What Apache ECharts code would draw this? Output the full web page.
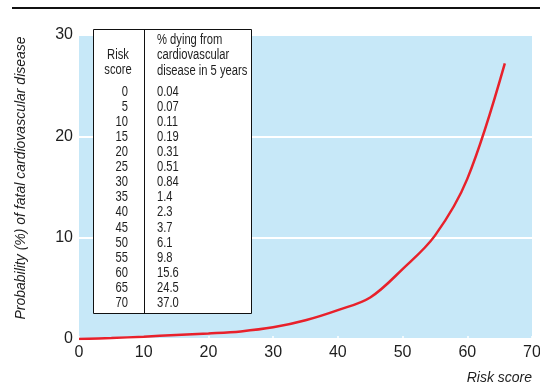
<!DOCTYPE html>
<html>
<head>
<meta charset="utf-8">
<script src="https://cdn.jsdelivr.net/npm/echarts@6/dist/echarts.min.js"></script>
<style>
  html, body { margin: 0; padding: 0; background: #fff; }
  #chart { width: 540px; height: 386px; }
</style>
</head>
<body>
<div id="chart"></div>
<script>
// 曲线上读出的点 (risk score, %)
var curveX = [0, 5, 10, 15, 20, 25, 30, 35, 40, 45, 50, 55, 60, 65.8]
var curveY = [0, 0.1, 0.23, 0.4, 0.55, 0.75, 1.15, 1.85, 2.85, 4.1, 6.9, 10.2, 15.8, 27.2]

// 表格内容
var tableScores = ['0', '5', '10', '15', '20', '25', '30', '35', '40', '45', '50', '55', '60', '65', '70']
var tablePercent = ['0.04', '0.07', '0.11', '0.19', '0.31', '0.51', '0.84', '1.4', '2.3', '3.7', '6.1', '9.8', '15.6', '24.5', '37.0']

var xTicks = [0, 10, 20, 30, 40, 50, 60, 70]
var yTicks = [0, 10, 20, 30]

var FONT = "'Liberation Sans', Arial, sans-serif"
var TEXT = '#1e1e1e'
// 窄体字用横向缩放模拟
var NARROW = 0.8

var points = curveX.map(function (x, i) { return [x, curveY[i]] })

var chart = echarts.init(document.getElementById('chart'), null, { renderer: 'canvas' })

function tableText (x, y, text, align, lh) {
  return {
    type: 'text', x: x, y: y, scaleX: NARROW, z: 11,
    style: { text: text, font: '14px ' + FONT, fill: TEXT, align: align, verticalAlign: 'top', lineHeight: lh }
  }
}

var option = {
  animation: false,
  grid: {
    left: 79,
    right: 8,
    top: 35,
    bottom: 47,
    outerBoundsMode: 'none',
    containLabel: false,
    show: true,
    backgroundColor: '#c7e8f8',
    borderWidth: 0
  },
  xAxis: {
    type: 'value',
    min: xTicks[0],
    max: xTicks[xTicks.length - 1],
    interval: 10,
    name: 'Risk score',
    nameLocation: 'end',
    nameGap: 0,
    nameTextStyle: {
      fontFamily: FONT,
      fontStyle: 'italic',
      fontSize: 14,
      color: TEXT,
      align: 'right',
      verticalAlign: 'top',
      padding: [32, 0, 0, 0]
    },
    axisLine: { show: false },
    axisTick: { show: true, inside: true, length: 3, lineStyle: { color: '#fff', width: 1.5 } },
    axisLabel: { fontFamily: FONT, fontSize: 16, color: TEXT, margin: 6 },
    splitLine: { show: false }
  },
  yAxis: {
    type: 'value',
    min: yTicks[0],
    max: yTicks[yTicks.length - 1],
    interval: 10,
    name: 'Probability (%) of fatal cardiovascular disease',
    nameLocation: 'middle',
    nameGap: 51,
    nameTextStyle: {
      fontFamily: FONT,
      fontStyle: 'italic',
      fontSize: 14,
      color: TEXT,
      padding: [0, 0, 0, 18]
    },
    axisLine: { show: false },
    axisTick: { show: false },
    axisLabel: { fontFamily: FONT, fontSize: 16, color: TEXT, margin: 6 },
    splitLine: { show: true, lineStyle: { color: '#fff', width: 2 } }
  },
  series: [
    {
      name: 'risk',
      type: 'line',
      data: points,
      smooth: 0.35,
      showSymbol: false,
      lineStyle: { color: '#e8212b', width: 2.5 },
      z: 3
    }
  ],
  graphic: [
    // 顶部横线
    { type: 'line', shape: { x1: 12, y1: 8, x2: 540, y2: 8 }, style: { stroke: '#111', lineWidth: 2 }, z: 10 },
    // 表格框
    { type: 'rect', shape: { x: 93.5, y: 29.5, width: 158, height: 284 }, style: { fill: '#fff', stroke: '#111', lineWidth: 1 }, z: 10 },
    { type: 'line', shape: { x1: 144.5, y1: 29.5, x2: 144.5, y2: 313.5 }, style: { stroke: '#111', lineWidth: 1 }, z: 11 },
    tableText(118, 47, 'Risk\nscore', 'center', 15.5),
    tableText(157, 32, '% dying from\ncardiovascular\ndisease in 5 years', 'left', 15.5),
    tableText(128, 84.5, tableScores.join('\n'), 'right', 15.07),
    tableText(157, 84.5, tablePercent.join('\n'), 'left', 15.07)
  ]
}

chart.setOption(option)
</script>
</body>
</html>
